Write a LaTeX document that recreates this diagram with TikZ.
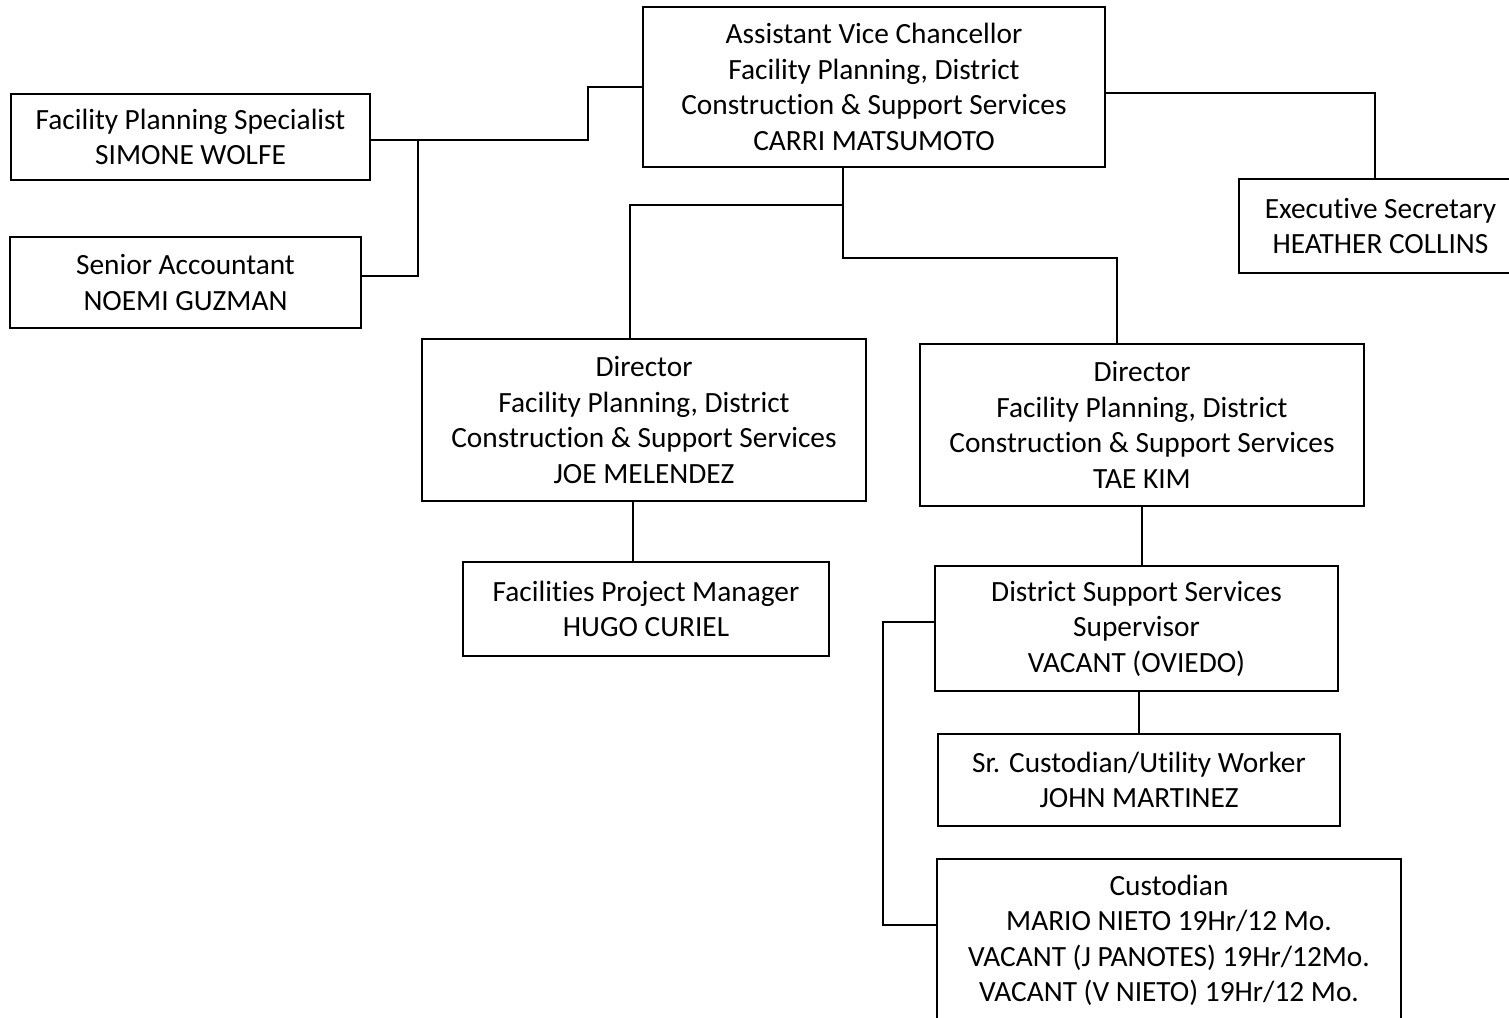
\documentclass[tikz,border=0pt]{standalone}
\usepackage{fontspec}
\setmainfont{Carlito}[Ligatures=NoCommon]
\usepackage{tikz}
\usetikzlibrary{positioning, calc}

\begin{document}
\begin{tikzpicture}[x=0.2mm, y=-0.2mm,
    post/.style={draw, line width=1.3pt, inner sep=0pt, align=center,
                 font=\fontsize{16.7}{20.2}\selectfont},
    link/.style={draw, line width=0.9pt}]

\useasboundingbox (0,0) rectangle (1509,1018);

% Top: Assistant Vice Chancellor
\node[post, minimum width=92.4mm, minimum height=32mm] (avc) at (874, 87)
    {Assistant Vice Chancellor\\Facility Planning, District\\Construction \& Support Services\\CARRI MATSUMOTO};

% Left side staff
\node[post, minimum width=71.8mm, minimum height=17.2mm] (fps) at (190.5, 137)
    {Facility Planning Specialist\\SIMONE WOLFE};
\node[post, minimum width=70.2mm, minimum height=18.2mm] (acct) at (185.5, 282.5)
    {Senior Accountant\\NOEMI GUZMAN};

% Right side staff
\node[post, minimum width=56.6mm, minimum height=18.8mm] (sec) at (1380.5, 226)
    {Executive Secretary\\HEATHER COLLINS};

% Directors
\node[post, minimum width=88.8mm, minimum height=32.4mm] (jm) at (644, 420)
    {Director\\Facility Planning, District\\Construction \& Support Services\\JOE MELENDEZ};
\node[post, minimum width=88.8mm, minimum height=32.4mm] (tk) at (1142, 425)
    {Director\\Facility Planning, District\\Construction \& Support Services\\TAE KIM};

% Under the directors
\node[post, minimum width=73.2mm, minimum height=18.8mm] (fpm) at (646, 609)
    {Facilities Project Manager\\HUGO CURIEL};
\node[post, minimum width=80.6mm, minimum height=25mm] (dsss) at (1136.5, 628.5)
    {District Support Services\\Supervisor\\VACANT (OVIEDO)};
\node[post, minimum width=80.4mm, minimum height=18.4mm] (src) at (1139, 780)
    {Sr. Custodian/Utility Worker\\JOHN MARTINEZ};
\node[post, minimum width=92.8mm, minimum height=32.6mm] (cust) at (1169, 940.5)
    {Custodian\\MARIO NIETO 19Hr/12 Mo.\\VACANT (J PANOTES) 19Hr/12Mo.\\VACANT (V NIETO) 19Hr/12 Mo.};

% Bends of the connectors
\coordinate (hubL) at (588, 140);
\coordinate (hubA) at (418, 140);
\coordinate (hubA2) at (418, 276);
\coordinate (hubE) at (1375, 93);
\coordinate (hubB) at (843, 205);
\coordinate (hubC) at (843, 258);
\coordinate (hubT) at (1117, 258);
\coordinate (hubJ) at (630, 205);
\coordinate (dropJ) at (633, 530);
\coordinate (hubS) at (883, 622);
\coordinate (hubS2) at (883, 925);

% Connectors
\draw[link] (avc.west) -| (hubL) -- (hubL -| fps.east);
\draw[link] (hubA) -- (hubA2) -- (hubA2 -| acct.east);
\draw[link] (hubE -| avc.east) -- (hubE) -- (hubE |- sec.north);
\draw[link] (hubB |- avc.south) -- (hubC) -- (hubT) -- (hubT |- tk.north);
\draw[link] (hubB) -- (hubJ) -- (hubJ |- jm.north);
\draw[link] (dropJ |- jm.south) -- (dropJ |- fpm.north);
\draw[link] (tk.south) -- (tk.south |- dsss.north);
\draw[link] (src.north |- dsss.south) -- (src.north);
\draw[link] (hubS -| dsss.west) -- (hubS) -- (hubS2) -- (hubS2 -| cust.west);

\end{tikzpicture}
\end{document}
